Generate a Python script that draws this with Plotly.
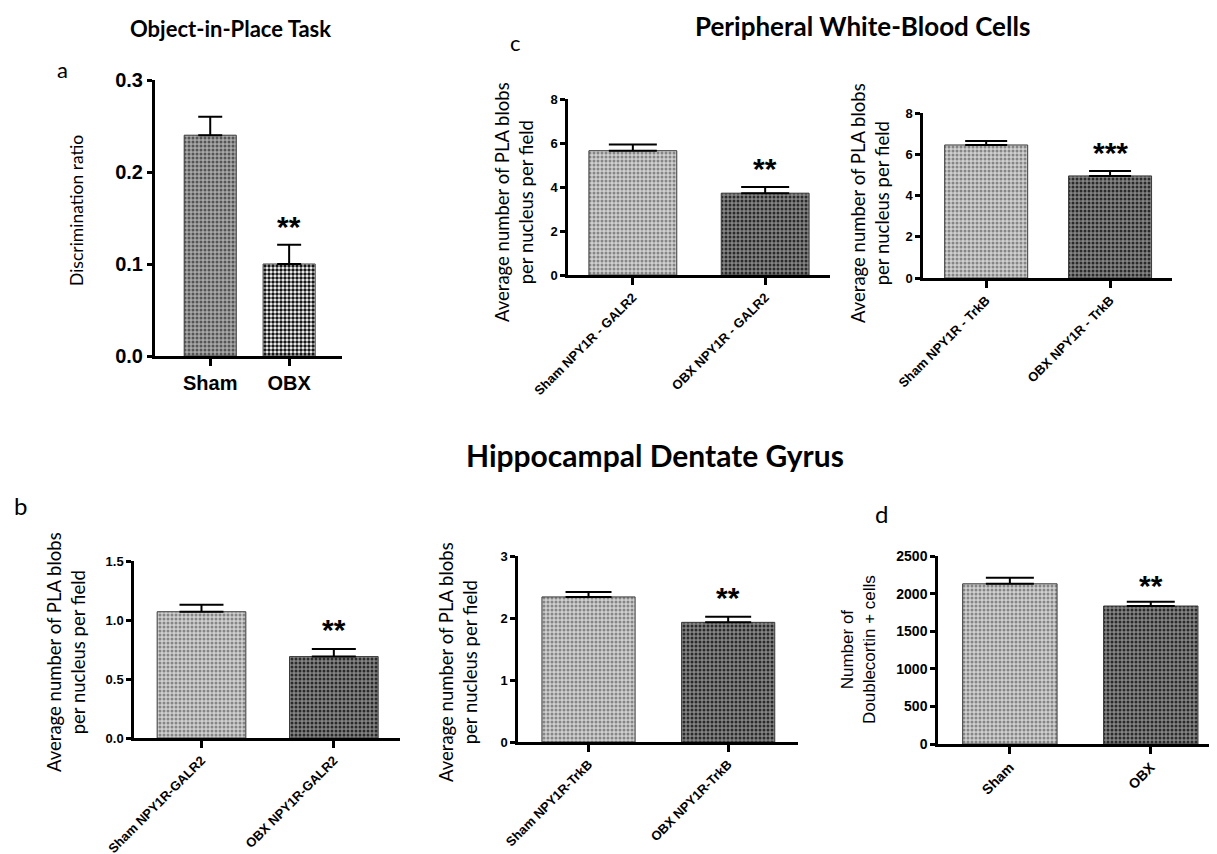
import plotly.graph_objects as go

# ---------------- data ----------------
a_groups = ["Sham", "OBX"]
a_mean = [0.24, 0.10]
a_sem = [0.02, 0.021]

c1_groups = ["Sham NPY1R - GALR2", "OBX NPY1R - GALR2"]
c1_mean = [5.65, 3.72]
c1_sem = [0.28, 0.28]

c2_groups = ["Sham NPY1R - TrkB", "OBX NPY1R - TrkB"]
c2_mean = [6.45, 4.95]
c2_sem = [0.19, 0.24]

b1_groups = ["Sham NPY1R-GALR2", "OBX NPY1R-GALR2"]
b1_mean = [1.07, 0.69]
b1_sem = [0.06, 0.065]

b2_groups = ["Sham NPY1R-TrkB", "OBX NPY1R-TrkB"]
b2_mean = [2.34, 1.93]
b2_sem = [0.08, 0.09]

d_groups = ["Sham", "OBX"]
d_mean = [2130, 1835]
d_sem = [80, 55]

a_ticks = [0.0, 0.1, 0.2, 0.3]
c_ticks = [0, 2, 4, 6, 8]
b1_ticks = [0.0, 0.5, 1.0, 1.5]
b2_ticks = [0, 1, 2, 3]
d_ticks = [0, 500, 1000, 1500, 2000, 2500]

W, H = 1217, 854
OFF = 8  # page body margin
TEXT_FONT = "Lato, 'Open Sans', sans-serif"
ARIAL = "Arial, 'Liberation Sans', sans-serif"


def fx(px):
    return (px - OFF) / W


def fy(py):
    return 1 - (py - OFF) / H


light = dict(bg="#d0d0d0", fg="#858585")
dark = dict(bg="#858585", fg="#2a2a2a")
panels = [
    dict(g=a_groups, m=a_mean, s=a_sem, ticks=a_ticks, fmt=".1f", xp=(155, 342), yp=(80, 356),
         xr=(-0.70, 1.67), cap=12, lw=3, tfs=20, xfs=20, ang=0, sig="**",
         sham=dict(bg="#a8a8a8", fg="#555555"), obx=dict(bg="#ffffff", fg="#151515", sol=0.6), bw=0.66, ss=14),
    dict(g=c1_groups, m=c1_mean, s=c1_sem, ticks=c_ticks, fmt="d", xp=(568, 830), yp=(99, 275),
         xr=(-0.49, 1.49), cap=24, lw=2.5, tfs=13, xfs=13, ang=-45, sig="**",
         sham=light, obx=dark, bw=0.664, ss=14),
    dict(g=c2_groups, m=c2_mean, s=c2_sem, ticks=c_ticks, fmt="d", xp=(923, 1172), yp=(113, 278),
         xr=(-0.51, 1.50), cap=21, lw=2.5, tfs=13, xfs=13, ang=-45, sig="***",
         sham=light, obx=dark, bw=0.67, ss=14),
    dict(g=b1_groups, m=b1_mean, s=b1_sem, ticks=b1_ticks, fmt=".1f", xp=(134, 400), yp=(561, 738),
         xr=(-0.51, 1.50), cap=22, lw=2.5, tfs=13, xfs=13, ang=-45, sig="**",
         sham=light, obx=dark, bw=0.67, ss=15),
    dict(g=b2_groups, m=b2_mean, s=b2_sem, ticks=b2_ticks, fmt="d", xp=(518, 798), yp=(556, 742),
         xr=(-0.505, 1.50), cap=23, lw=2.5, tfs=13, xfs=13, ang=-45, sig="**",
         sham=light, obx=dark, bw=0.667, ss=15),
    dict(g=d_groups, m=d_mean, s=d_sem, ticks=d_ticks, fmt="d", xp=(938, 1217), yp=(556, 744),
         xr=(-0.51, 1.47), cap=24, lw=2.5, tfs=14, xfs=14, ang=-45, sig="**",
         sham=light, obx=dark, bw=0.67, ss=12),
]

fig = go.Figure()
annotations = []

for i, p in enumerate(panels, start=1):
    xa = "x" if i == 1 else f"x{i}"
    ya = "y" if i == 1 else f"y{i}"
    xkey = "xaxis" if i == 1 else f"xaxis{i}"
    ykey = "yaxis" if i == 1 else f"yaxis{i}"
    for j in range(2):
        pat = p["sham"] if j == 0 else p["obx"]
        fig.add_trace(go.Bar(
            x=[p["g"][j]], y=[p["m"][j]], xaxis=xa, yaxis=ya, width=p["bw"],
            marker=dict(color=pat["bg"], line=dict(color="#3a3a3a", width=1),
                        pattern=dict(shape=".", bgcolor=pat["bg"], fgcolor=pat["fg"],
                                     size=4, solidity=pat.get("sol", 0.45), fillmode="replace")),
            error_y=dict(type="data", array=[p["s"][j]], arrayminus=[0], symmetric=False,
                         color="black", thickness=2, width=p["cap"]),
            showlegend=False, hoverinfo="skip",
        ))
    top = p["ticks"][-1]
    fig.update_layout({
        xkey: dict(domain=[fx(p["xp"][0]), min(1.0, fx(p["xp"][1]))], anchor=ya, type="category",
                   categoryorder="array", categoryarray=p["g"], range=list(p["xr"]),
                   showline=True, linecolor="black", linewidth=p["lw"], ticks="outside",
                   ticklen=7, tickwidth=p["lw"], tickcolor="black", showgrid=False, zeroline=False,
                   tickangle=p["ang"], automargin=False,
                   tickfont=dict(family=ARIAL, size=p["xfs"], color="black", weight="bold"),
                   fixedrange=True),
        ykey: dict(domain=[fy(p["yp"][1]), fy(p["yp"][0])], anchor=xa, range=[0, top],
                   tickmode="array", tickvals=p["ticks"], tickformat=p["fmt"],
                   showline=True, linecolor="black", linewidth=p["lw"], ticks="outside",
                   ticklen=5, tickwidth=p["lw"], tickcolor="black", showgrid=False, zeroline=False,
                   automargin=False,
                   tickfont=dict(family=ARIAL, size=p["tfs"], color="black", weight="bold"),
                   fixedrange=True),
    })
    annotations.append(dict(x=p["g"][1], y=p["m"][1] + p["s"][1], xref=xa, yref=ya,
                            text=p["sig"], showarrow=False, yanchor="bottom", yshift=p["ss"] - 14,
                            font=dict(family=ARIAL, size=30, color="black", weight="bold")))

# y-axis titles
pla = "Average number of PLA blobs<br>per nucleus per field"
for txt, x, y, fnt in [
    ("Discrimination ratio", 77, 211, dict(family=TEXT_FONT, size=17.5, color="black")),
    (pla, 514, 202, dict(family=TEXT_FONT, size=18.5, color="black")),
    (pla, 870, 203, dict(family=TEXT_FONT, size=18.5, color="black")),
    (pla, 66, 652, dict(family=TEXT_FONT, size=18.5, color="black")),
    (pla, 458, 662, dict(family=TEXT_FONT, size=18.5, color="black")),
    ("Number of<br>Doublecortin + cells", 858, 650, dict(family=ARIAL, size=17, color="black")),
]:
    annotations.append(dict(x=fx(x), y=fy(y), xref="paper", yref="paper", text=txt, textangle=-90,
                            showarrow=False, xanchor="center", yanchor="middle", font=fnt))

# titles and panel letters
for txt, x, y, size, bold, yanc in [
    ("Object-in-Place Task", 231, 28, 22, True, "middle"),
    ("Peripheral White-Blood Cells", 862, 8, 26, True, "top"),
    ("Hippocampal Dentate Gyrus", 655, 455, 30, True, "middle"),
    ("a", 62, 70, 22, False, "middle"),
    ("c", 515, 42, 22, False, "middle"),
    ("b", 20, 505, 24, False, "middle"),
    ("d", 882, 513, 24, False, "middle"),
]:
    annotations.append(dict(x=fx(x), y=fy(y), xref="paper", yref="paper", text=txt, showarrow=False,
                            xanchor="center", yanchor=yanc,
                            font=dict(family=TEXT_FONT, size=size, color="black",
                                      weight="bold" if bold else "normal")))

fig.update_layout(
    width=W, height=H, margin=dict(l=0, r=0, t=0, b=0, pad=0, autoexpand=False),
    paper_bgcolor="white", plot_bgcolor="white",
    annotations=annotations, barmode="overlay", showlegend=False,
)

fig.write_html("out.html")
